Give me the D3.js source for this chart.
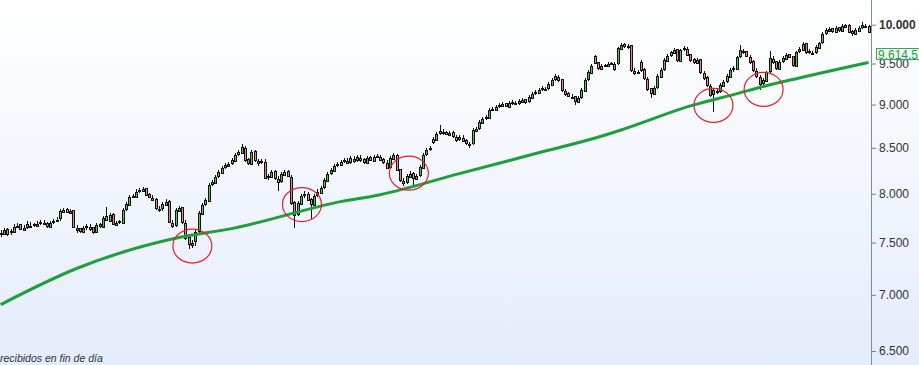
<!DOCTYPE html>
<html>
<head>
<meta charset="utf-8">
<script src="https://cdn.jsdelivr.net/npm/d3@7"></script>
<style>
  html, body { margin: 0; padding: 0; overflow: hidden; background: #fff; }
  svg { display: block; }
</style>
</head>
<body>
<div id="chart"></div>
<script>
// daily candles (one row = 10 sessions)
var opens = [
  7585, 7585, 7640, 7610, 7610, 7666, 7686, 7630, 7660, 7671,
  7686, 7671, 7701, 7699, 7699, 7661, 7711, 7713, 7751, 7814,
  7844, 7804, 7829, 7651, 7645, 7610, 7660, 7656, 7652, 7605,
  7691, 7661, 7767, 7721, 7788, 7681, 7716, 7701, 7844, 7881,
  7979, 7970, 8034, 8033, 8062, 8000, 7959, 7948, 7845, 7846,
  7886, 7925, 7701, 7681, 7824, 7860, 7701, 7560, 7481, 7511,
  7620, 7788, 7896, 7928, 8108, 8118, 8190, 8226, 8290, 8302,
  8333, 8355, 8432, 8446, 8502, 8377, 8324, 8464, 8357, 8344,
  8346, 8184, 8183, 8244, 8162, 8138, 8205, 8244, 8183, 7917,
  7793, 7897, 7990, 7993, 7948, 7886, 7990, 8012, 8074, 8140,
  8225, 8248, 8313, 8313, 8355, 8357, 8344, 8379, 8368, 8390,
  8377, 8335, 8399, 8357, 8410, 8401, 8377, 8335, 8290, 8379,
  8417, 8268, 8140, 8128, 8183, 8225, 8162, 8203, 8280, 8432,
  8488, 8560, 8592, 8668, 8682, 8680, 8648, 8680, 8626, 8602,
  8614, 8589, 8547, 8555, 8694, 8725, 8786, 8841, 8844, 8946,
  8938, 8981, 8985, 9017, 8973, 9029, 9021, 9017, 9033, 9065,
  9041, 9081, 9137, 9141, 9185, 9189, 9197, 9238, 9307, 9336,
  9307, 9165, 9137, 9093, 9101, 9033, 9089, 9165, 9307, 9385,
  9590, 9517, 9435, 9480, 9472, 9505, 9430, 9505, 9687, 9745,
  9710, 9732, 9410, 9393, 9520, 9430, 9311, 9197, 9129, 9209,
  9336, 9430, 9535, 9606, 9636, 9681, 9535, 9681, 9687, 9618,
  9555, 9510, 9555, 9385, 9331, 9226, 9125, 9165, 9161, 9226,
  9282, 9336, 9430, 9435, 9593, 9661, 9656, 9586, 9530, 9410,
  9336, 9258, 9287, 9405, 9560, 9530, 9435, 9530, 9560, 9618,
  9593, 9472, 9656, 9674, 9758, 9660, 9636, 9643, 9700, 9771,
  9888, 9920, 9953, 9907, 9967, 9920, 9993, 9990, 9915, 9881,
  9920, 9967, 9986, 9980
];
var highs = [
  7630, 7650, 7645, 7640, 7685, 7700, 7690, 7675, 7715, 7705,
  7700, 7712, 7730, 7728, 7705, 7720, 7740, 7755, 7845, 7855,
  7850, 7845, 7835, 7675, 7650, 7670, 7690, 7685, 7655, 7700,
  7700, 7770, 7860, 7800, 7795, 7720, 7730, 7850, 7915, 7985,
  8000, 8045, 8065, 8075, 8065, 8005, 7985, 7950, 7870, 7915,
  7940, 7930, 7730, 7850, 7875, 7865, 7725, 7565, 7530, 7625,
  7820, 7905, 7955, 8115, 8150, 8200, 8255, 8300, 8335, 8345,
  8390, 8440, 8475, 8545, 8520, 8385, 8475, 8470, 8380, 8375,
  8370, 8215, 8255, 8250, 8185, 8235, 8255, 8250, 8205, 7920,
  7925, 8000, 8025, 8015, 7955, 8000, 8045, 8085, 8170, 8235,
  8280, 8320, 8345, 8365, 8390, 8385, 8410, 8405, 8420, 8415,
  8385, 8410, 8405, 8420, 8435, 8425, 8385, 8360, 8405, 8440,
  8435, 8270, 8165, 8210, 8240, 8230, 8215, 8310, 8440, 8495,
  8520, 8620, 8680, 8765, 8710, 8690, 8690, 8685, 8650, 8645,
  8640, 8595, 8570, 8720, 8735, 8815, 8850, 8875, 8955, 8970,
  8990, 9015, 9030, 9020, 9040, 9050, 9045, 9065, 9075, 9070,
  9110, 9150, 9175, 9195, 9220, 9215, 9270, 9320, 9370, 9360,
  9310, 9190, 9145, 9120, 9105, 9100, 9195, 9315, 9415, 9490,
  9610, 9525, 9490, 9500, 9515, 9525, 9515, 9715, 9760, 9760,
  9745, 9735, 9440, 9420, 9540, 9440, 9335, 9200, 9220, 9365,
  9440, 9565, 9615, 9665, 9695, 9685, 9690, 9720, 9710, 9625,
  9565, 9565, 9560, 9410, 9340, 9250, 9195, 9195, 9255, 9295,
  9365, 9440, 9465, 9600, 9735, 9690, 9665, 9610, 9540, 9440,
  9360, 9320, 9410, 9660, 9590, 9535, 9540, 9590, 9630, 9625,
  9600, 9665, 9705, 9770, 9760, 9680, 9660, 9730, 9780, 9900,
  9955, 9965, 9960, 9980, 9975, 10005, 10010, 10010, 9925, 9950,
  9980, 10030, 10015, 9990
];
var lows = [
  7560, 7585, 7570, 7575, 7610, 7645, 7625, 7620, 7640, 7650,
  7655, 7665, 7680, 7675, 7650, 7660, 7690, 7705, 7720, 7805,
  7795, 7800, 7645, 7600, 7595, 7605, 7630, 7620, 7590, 7600,
  7650, 7660, 7715, 7720, 7675, 7680, 7690, 7700, 7820, 7870,
  7955, 7965, 8005, 8025, 7975, 7950, 7920, 7835, 7810, 7820,
  7880, 7695, 7650, 7660, 7815, 7690, 7530, 7440, 7450, 7470,
  7600, 7775, 7870, 7925, 8080, 8110, 8165, 8220, 8265, 8295,
  8305, 8350, 8405, 8440, 8345, 8310, 8320, 8345, 8300, 8315,
  8155, 8150, 8175, 8150, 8030, 8110, 8195, 8175, 7885, 7650,
  7765, 7890, 7960, 7920, 7735, 7880, 7965, 8005, 8050, 8135,
  8200, 8240, 8285, 8305, 8330, 8315, 8320, 8335, 8340, 8345,
  8325, 8330, 8350, 8350, 8385, 8350, 8325, 8265, 8270, 8375,
  8240, 8130, 8080, 8100, 8175, 8090, 8155, 8180, 8275, 8405,
  8460, 8545, 8590, 8640, 8650, 8640, 8640, 8615, 8570, 8575,
  8560, 8535, 8500, 8530, 8690, 8700, 8780, 8815, 8840, 8920,
  8930, 8955, 8980, 8965, 8970, 9000, 8990, 8995, 9025, 9010,
  9020, 9075, 9110, 9135, 9160, 9165, 9170, 9230, 9280, 9275,
  9155, 9105, 9085, 9070, 9000, 9015, 9065, 9160, 9280, 9380,
  9490, 9425, 9430, 9455, 9470, 9480, 9410, 9480, 9680, 9700,
  9690, 9400, 9360, 9365, 9400, 9300, 9165, 9075, 9120, 9185,
  9330, 9405, 9530, 9580, 9630, 9525, 9530, 9655, 9590, 9525,
  9500, 9500, 9375, 9300, 9215, 9095, 8910, 9130, 9135, 9215,
  9255, 9330, 9400, 9430, 9565, 9625, 9580, 9500, 9400, 9320,
  9175, 9230, 9280, 9380, 9500, 9425, 9430, 9505, 9555, 9565,
  9460, 9465, 9630, 9670, 9625, 9625, 9610, 9620, 9695, 9745,
  9860, 9915, 9895, 9900, 9910, 9915, 9950, 9890, 9855, 9875,
  9915, 9945, 9950, 9885
];
var closes = [
  7600, 7630, 7590, 7620, 7661, 7671, 7640, 7650, 7691, 7671,
  7681, 7691, 7711, 7691, 7671, 7701, 7721, 7731, 7824, 7834,
  7814, 7824, 7661, 7630, 7620, 7650, 7671, 7640, 7610, 7681,
  7671, 7752, 7731, 7783, 7691, 7701, 7711, 7834, 7896, 7969,
  7980, 8022, 8043, 8054, 7990, 7969, 7938, 7855, 7834, 7896,
  7917, 7711, 7671, 7834, 7855, 7711, 7550, 7491, 7501, 7610,
  7803, 7886, 7938, 8096, 8128, 8182, 8236, 8280, 8312, 8323,
  8367, 8422, 8456, 8512, 8367, 8334, 8456, 8367, 8334, 8356,
  8172, 8193, 8236, 8172, 8128, 8215, 8236, 8193, 7907, 7783,
  7907, 7980, 8001, 7938, 7896, 7980, 8022, 8064, 8150, 8215,
  8258, 8301, 8323, 8345, 8367, 8334, 8389, 8356, 8400, 8367,
  8345, 8389, 8367, 8400, 8411, 8367, 8345, 8280, 8389, 8422,
  8258, 8150, 8118, 8193, 8215, 8172, 8193, 8290, 8422, 8478,
  8500, 8602, 8658, 8692, 8670, 8658, 8670, 8636, 8590, 8624,
  8579, 8557, 8545, 8704, 8715, 8796, 8831, 8854, 8936, 8948,
  8971, 8995, 9007, 8983, 9019, 9031, 9007, 9043, 9055, 9031,
  9091, 9127, 9151, 9175, 9199, 9187, 9248, 9297, 9346, 9297,
  9175, 9127, 9103, 9091, 9043, 9079, 9175, 9297, 9395, 9470,
  9507, 9445, 9470, 9482, 9495, 9507, 9495, 9697, 9735, 9722,
  9722, 9420, 9383, 9395, 9420, 9321, 9187, 9139, 9199, 9346,
  9420, 9545, 9596, 9646, 9671, 9545, 9671, 9697, 9608, 9545,
  9520, 9545, 9395, 9321, 9236, 9115, 9175, 9151, 9236, 9272,
  9346, 9420, 9445, 9583, 9671, 9646, 9596, 9520, 9420, 9346,
  9248, 9297, 9395, 9570, 9520, 9445, 9520, 9570, 9608, 9583,
  9482, 9646, 9684, 9748, 9646, 9646, 9633, 9710, 9761, 9878,
  9930, 9943, 9917, 9957, 9930, 9983, 9970, 9905, 9891, 9930,
  9957, 9996, 9970, 9904
];

// 200 session moving average, read at a few sessions along the line
var maIndex = [0, 23, 54, 70, 103, 115, 139, 163, 182, 189, 209, 224, 230, 242, 263];
var maValues = [6911, 7248, 7550, 7640, 7917, 7990, 8215, 8444, 8630, 8715, 8983, 9139, 9205, 9321, 9514];

var yTicks = [6500, 7000, 7500, 8000, 8500, 9000, 9500, 10000];
var maLabel = 9614.5;

// red rings drawn on the touches of the average
var ringIndex = [58.1, 91.3, 123.7, 216, 231.2];
var ringPrice = [7466, 7886, 8220, 8989, 9181];

var footText = "recibidos en fin de día";

if (opens.length != closes.length || highs.length != closes.length || lows.length != closes.length) {
    console.log("length mismatch", opens.length, highs.length, lows.length, closes.length);
}

var W = 919, H = 365, axisX = 871;
var esLocale = d3.formatLocale({ decimal: ",", thousands: ".", grouping: [3], currency: ["", "€"] });
var fmt = esLocale.format(",.0f");
var fmtLabel = esLocale.format(",.1f");

var svg = d3.select("#chart").append("svg")
    .attr("width", W)
    .attr("height", H);

var defs = svg.append("defs");
var grad = defs.append("linearGradient")
    .attr("id", "bg")
    .attr("x1", 0).attr("y1", 0).attr("x2", 0).attr("y2", 1);
grad.append("stop").attr("offset", "0%").attr("stop-color", "#ffffff");
grad.append("stop").attr("offset", "100%").attr("stop-color", "#e4ebfa");

defs.append("clipPath").attr("id", "plot")
    .append("rect").attr("x", 0).attr("y", 0).attr("width", axisX).attr("height", H);

svg.append("rect").attr("width", W).attr("height", H).attr("fill", "url(#bg)");

var x = d3.scaleLinear().domain([0, closes.length - 1]).range([0.65, 868.55]);
var y = d3.scaleLog().domain([6500, 10000]).range([351, 24.7]);

var candles = closes.map(function(c, i) {
    return { i: i, o: opens[i], h: highs[i], l: lows[i], c: c };
});

var plot = svg.append("g").attr("clip-path", "url(#plot)");

// wicks
plot.append("g")
    .attr("shape-rendering", "crispEdges")
    .selectAll("line")
    .data(candles)
    .enter().append("line")
    .attr("x1", function(d) { return Math.round(x(d.i)) + 0.5; })
    .attr("x2", function(d) { return Math.round(x(d.i)) + 0.5; })
    .attr("y1", function(d) { return Math.round(y(d.h)); })
    .attr("y2", function(d) { return Math.round(y(d.l)); })
    .attr("stroke", "#111")
    .attr("stroke-width", 1);

// bodies: 3px outline with the colour inside
plot.append("g")
    .attr("shape-rendering", "crispEdges")
    .selectAll("rect")
    .data(candles)
    .enter().append("rect")
    .attr("x", function(d) { return Math.round(x(d.i)) - 0.5; })
    .attr("y", function(d) { return Math.round(y(Math.max(d.o, d.c))) + 0.5; })
    .attr("width", 2)
    .attr("height", function(d) {
        var h = Math.round(y(Math.min(d.o, d.c))) - Math.round(y(Math.max(d.o, d.c)));
        return Math.max(1, h);
    })
    .attr("fill", function(d) { return d.c >= d.o ? "#4fc44f" : "#e58585"; })
    .attr("stroke", "#111")
    .attr("stroke-width", 1);

// moving average
var maPts = maIndex.map(function(v, k) { return { i: v, v: maValues[k] }; });
var maLine = d3.line()
    .x(function(d) { return x(d.i); })
    .y(function(d) { return y(d.v); })
    .curve(d3.curveMonotoneX);

plot.append("path")
    .datum(maPts)
    .attr("d", maLine)
    .attr("fill", "none")
    .attr("stroke", "#1e9e3c")
    .attr("stroke-width", 3);

// rings
plot.append("g").selectAll("ellipse")
    .data(ringIndex)
    .enter().append("ellipse")
    .attr("cx", function(d) { return x(d); })
    .attr("cy", function(d, k) { return y(ringPrice[k]); })
    .attr("rx", 19.5)
    .attr("ry", 17)
    .attr("fill", "none")
    .attr("stroke", "#e3212b")
    .attr("stroke-width", 1.2);

// right axis
var axis = d3.axisRight(y)
    .tickValues(yTicks)
    .tickSize(5)
    .tickPadding(3)
    .tickFormat(fmt);

var ax = svg.append("g")
    .attr("transform", "translate(" + axisX + ",0)")
    .call(axis);
ax.select(".domain").remove();
ax.selectAll(".tick line").attr("stroke", "#6f7f8f");
ax.selectAll(".tick text")
    .attr("fill", "#333")
    .style("font-family", "'Liberation Sans', Arial, sans-serif")
    .style("font-size", "12px")
    .style("font-weight", function(d) { return d == 10000 ? "bold" : "normal"; });

svg.append("line")
    .attr("x1", axisX + 0.5).attr("x2", axisX + 0.5)
    .attr("y1", 0).attr("y2", H)
    .attr("stroke", "#7d8d9c")
    .attr("stroke-width", 1);

// value flag of the average, drawn over the 9.500 label like the original
var ly = y(maLabel);
svg.append("rect")
    .attr("x", 876.5).attr("y", Math.round(ly - 6) + 0.5)
    .attr("width", 44).attr("height", 11)
    .attr("fill", "#eef7f1")
    .attr("stroke", "#3aa35c")
    .attr("stroke-width", 1);
svg.append("text")
    .attr("x", 878)
    .attr("y", ly + 4.5)
    .attr("fill", "#23a04b")
    .style("font-family", "'Liberation Sans', Arial, sans-serif")
    .style("font-size", "12px")
    .text(fmtLabel(maLabel));

svg.append("text")
    .attr("x", 0)
    .attr("y", 362)
    .attr("fill", "#333")
    .style("font-family", "'Liberation Sans', Arial, sans-serif")
    .style("font-size", "10.5px")
    .style("font-style", "italic")
    .text(footText);
</script>
</body>
</html>
